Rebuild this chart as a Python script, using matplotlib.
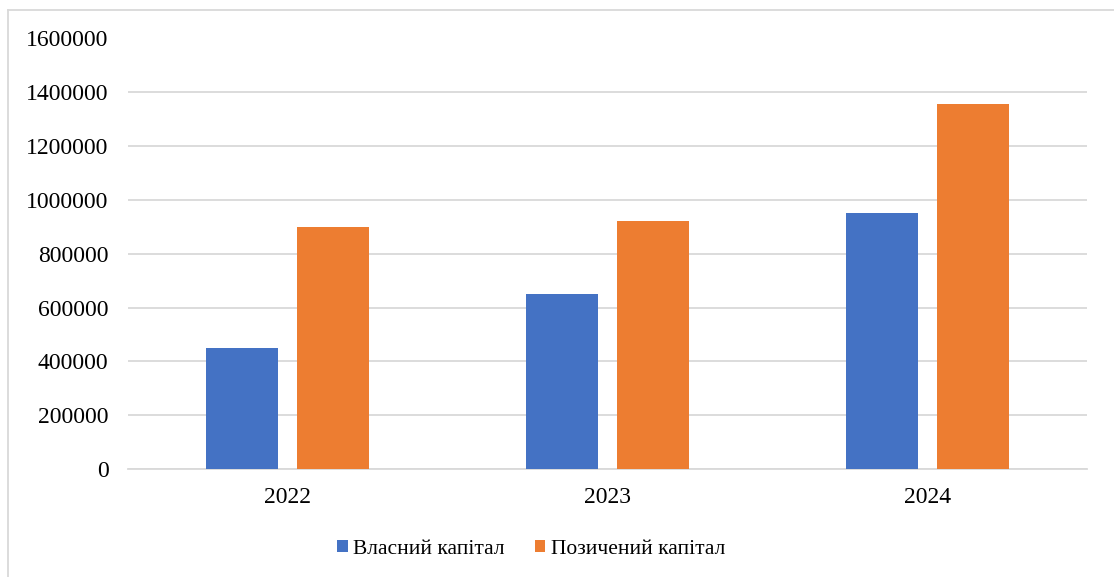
import matplotlib
matplotlib.use("Agg")
import numpy as np
import matplotlib.pyplot as plt
from matplotlib import font_manager
from matplotlib.lines import Line2D

years = ["2022", "2023", "2024"]
own_capital = [450000, 650000, 950000]
borrowed_capital = [900000, 922000, 1356000]
series_names = ["Власний капітал", "Позичений капітал"]
yticks = [0, 200000, 400000, 600000, 800000, 1000000, 1200000, 1400000, 1600000]

serif_path = font_manager.findfont("Liberation Serif")
fp = font_manager.FontProperties(fname=serif_path, size=17)
fp_leg = font_manager.FontProperties(fname=serif_path, size=15.5)

fig = plt.figure(figsize=(11.14, 5.77), dpi=100)
ax = fig.add_axes([128 / 1114, 1 - 469 / 577, (1087 - 128) / 1114, (469 - 38.5) / 577])

x = np.arange(len(years))
w = 0.225
off = 0.1425
ax.bar(x - off, own_capital, w, color="#4472C4", label=series_names[0], zorder=3)
ax.bar(x + off, borrowed_capital, w, color="#ED7D31", label=series_names[1], zorder=3)

ax.set_xlim(-0.5, len(years) - 0.5)
ax.set_ylim(0, 1600000)
ax.set_yticks(yticks)
ax.set_yticklabels([str(v) for v in yticks], fontproperties=fp)
ax.set_xticks(x)
ax.set_xticklabels(years, fontproperties=fp)
ax.grid(axis="y", color="#D9D9D9", linewidth=1.3, zorder=0)
for s in ["top", "right", "left"]:
    ax.spines[s].set_visible(False)
ax.spines["bottom"].set_color("#D9D9D9")
ax.spines["bottom"].set_linewidth(1.3)
ax.tick_params(length=0, colors="black")
ax.tick_params(axis="y", pad=14)
ax.tick_params(axis="x", pad=13)

# chart border (top and left edges visible)
fig.add_artist(Line2D([7.5 / 1114, 7.5 / 1114], [0, 1 - 9.5 / 577], color="#D9D9D9", lw=1.3))
fig.add_artist(Line2D([7.5 / 1114, 1], [1 - 9.5 / 577, 1 - 9.5 / 577], color="#D9D9D9", lw=1.3))

fig.legend(loc="center", bbox_to_anchor=(531 / 1114, 1 - 549 / 577), ncol=2, frameon=False,
           prop=fp_leg, handlelength=0.5, handleheight=0.5, handletextpad=0.25,
           columnspacing=1.4)

plt.savefig("out.png", dpi=100)
